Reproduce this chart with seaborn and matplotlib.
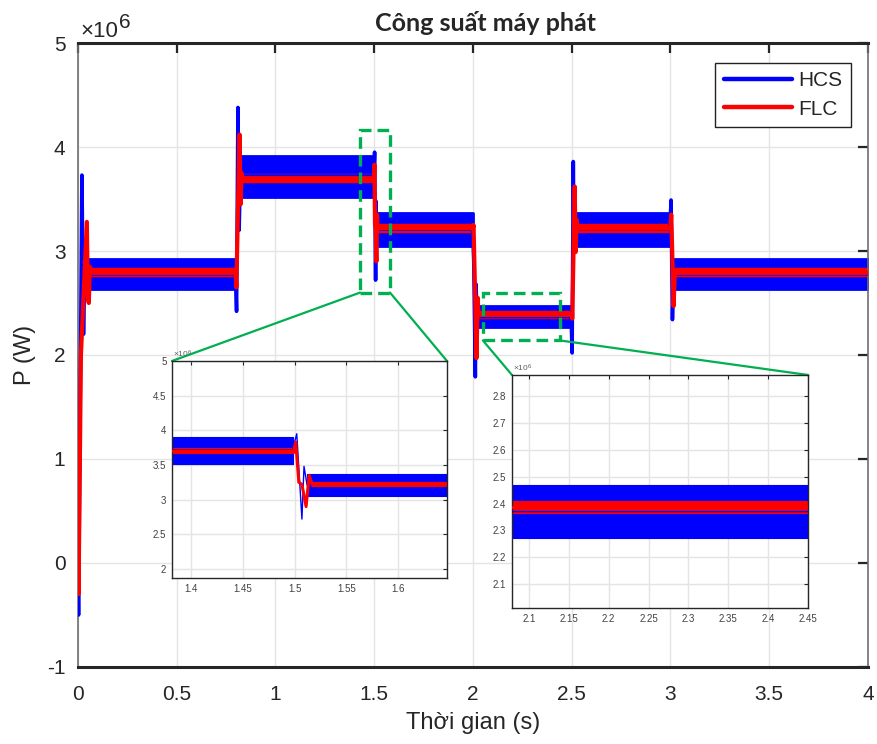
import matplotlib
matplotlib.use("Agg")
import matplotlib.pyplot as plt
import pandas as pd
import seaborn as sns
from matplotlib.lines import Line2D
from matplotlib.patches import Rectangle, ConnectionPatch
from matplotlib.ticker import FuncFormatter

SCALE = 1e6  # power values below are in units of 10^6 W

# ---- HCS controller: transient trace (time s, power) ----
HCS_T = [0.0, 0.003, 0.02, 0.028, 0.035, 0.04,
         0.798, 0.803, 0.81, 0.816, 0.822,
         1.498, 1.502, 1.507, 1.509, 1.512,
         1.998, 2.004, 2.012, 2.016, 2.02, 2.025,
         2.497, 2.502, 2.508, 2.512, 2.516,
         2.997, 3.003, 3.01, 3.016, 4.0]
HCS_P = [0.0, -0.5, 3.73, 2.2, 2.9, 2.78,
         2.78, 2.42, 4.38, 3.2, 3.72,
         3.72, 3.95, 2.72, 3.48, 3.21,
         3.21, 2.9, 1.79, 2.68, 2.3, 2.37,
         2.37, 2.02, 3.86, 3.0, 3.21,
         3.21, 3.49, 2.34, 2.78, 2.78]

# ---- HCS controller: steady-state ripple envelope ----
HCS_BAND_T0 = [0.04, 0.822, 1.512, 2.025, 2.516, 3.016]
HCS_BAND_T1 = [0.798, 1.498, 1.998, 2.497, 2.997, 4.0]
HCS_BAND_LO = [2.63, 3.52, 3.05, 2.27, 3.05, 2.63]
HCS_BAND_HI = [2.92, 3.91, 3.37, 2.47, 3.37, 2.92]

# ---- FLC controller: transient trace ----
FLC_T = [0.0, 0.003, 0.015, 0.045, 0.05, 0.055, 0.06, 0.065,
         0.798, 0.802, 0.818, 0.824, 0.828, 0.832,
         1.499, 1.501, 1.504, 1.507, 1.511, 1.514, 1.517,
         1.999, 2.003, 2.018, 2.024, 2.028,
         2.499, 2.503, 2.515, 2.52, 2.525, 2.53,
         2.999, 3.004, 3.016, 3.022, 4.0]
FLC_P = [0.0, -0.3, 2.0, 3.28, 2.55, 2.5, 2.85, 2.79,
         2.79, 2.65, 4.12, 3.45, 3.75, 3.7,
         3.7, 3.83, 3.25, 3.22, 2.9, 3.35, 3.22,
         3.22, 3.25, 1.97, 2.55, 2.385,
         2.385, 2.35, 3.62, 2.99, 3.3, 3.215,
         3.215, 3.35, 2.47, 2.79, 2.79]

# ---- FLC controller: steady-state ripple envelope ----
FLC_BAND_T0 = [0.065, 0.832, 1.517, 2.028, 2.53, 3.022]
FLC_BAND_T1 = [0.798, 1.499, 1.999, 2.499, 2.999, 4.0]
FLC_BAND_LO = [2.765, 3.675, 3.195, 2.365, 3.19, 2.765]
FLC_BAND_HI = [2.815, 3.725, 3.245, 2.405, 3.24, 2.815]

# zoom windows: (t0, t1, p0, p1) of the dashed boxes and the inset limits
BOX_1 = (1.428, 1.58, 2.6, 4.16)
BOX_2 = (2.05, 2.44, 2.14, 2.6)
INSET_1_LIM = (1.3816, 1.647, 1.87, 5.0)
INSET_2_LIM = (2.0787, 2.45, 2.01, 2.88)
INSET_1_XTICKS = [1.4, 1.45, 1.5, 1.55, 1.6]
INSET_1_YTICKS = [2, 2.5, 3, 3.5, 4, 4.5, 5]
INSET_2_XTICKS = [2.1, 2.15, 2.2, 2.25, 2.3, 2.35, 2.4, 2.45]
INSET_2_YTICKS = [2.1, 2.2, 2.3, 2.4, 2.5, 2.6, 2.7, 2.8]
MAIN_XTICKS = [0, 0.5, 1, 1.5, 2, 2.5, 3, 3.5, 4]
MAIN_YTICKS = [-1, 0, 1, 2, 3, 4, 5]

BLUE = "#0000ff"
RED = "#ff0000"
GREEN = "#00b050"
DARK = "#262626"

sns.set_style("white")
plt.rcParams["font.family"] = ["Liberation Sans", "DejaVu Sans"]
plt.rcParams["axes.unicode_minus"] = False
plt.rcParams["mathtext.fontset"] = "custom"
plt.rcParams["mathtext.rm"] = "Liberation Sans"
plt.rcParams["mathtext.it"] = "Liberation Sans"

hcs = pd.DataFrame({"t": HCS_T, "P": [p * SCALE for p in HCS_P]})
flc = pd.DataFrame({"t": FLC_T, "P": [p * SCALE for p in FLC_P]})


def draw_series(ax, trace, t0, t1, lo, hi, color, lw_trace, lw_band):
    for a, b, l, h in zip(t0, t1, lo, hi):
        ax.fill_between([a, b], [l * SCALE] * 2, [h * SCALE] * 2,
                        facecolor=color, edgecolor=color, linewidth=lw_band,
                        joinstyle="round", zorder=2)
    sns.lineplot(data=trace, x="t", y="P", estimator=None, sort=False,
                 color=color, linewidth=lw_trace, ax=ax, zorder=3,
                 solid_joinstyle="round", solid_capstyle="round")


def fmt_g(v, pos):
    return f"{v:g}"


def fmt_mw(v, pos):
    return f"{v / SCALE:g}"


def style_axes(ax, fs, tick_len, tick_w, pad, label_color):
    ax.grid(True, color="#e4e4e4", linewidth=1.0)
    ax.set_axisbelow(True)
    ax.tick_params(direction="in", top=True, right=True, length=tick_len,
                   width=tick_w, color=DARK, labelsize=fs,
                   labelcolor=label_color, pad=pad)
    ax.set_xlabel("")
    ax.set_ylabel("")


fig = plt.figure(figsize=(8.77, 7.44), dpi=100)
ax = fig.add_axes([0.0889, 0.1035, 0.9008, 0.8387])

draw_series(ax, hcs, HCS_BAND_T0, HCS_BAND_T1, HCS_BAND_LO, HCS_BAND_HI,
            BLUE, 2.6, 2.0)
draw_series(ax, flc, FLC_BAND_T0, FLC_BAND_T1, FLC_BAND_LO, FLC_BAND_HI,
            RED, 3.0, 3.2)

ax.set_xlim(0, 4)
ax.set_ylim(-1 * SCALE, 5 * SCALE)
ax.set_xticks(MAIN_XTICKS)
ax.set_yticks([v * SCALE for v in MAIN_YTICKS])
ax.xaxis.set_major_formatter(FuncFormatter(fmt_g))
ax.yaxis.set_major_formatter(FuncFormatter(fmt_mw))
style_axes(ax, 15, 7, 1.6, 9, DARK)
ax.tick_params(axis="x", pad=13)
for side in ("top", "bottom"):
    ax.spines[side].set_color(DARK)
    ax.spines[side].set_linewidth(2.2)
for side in ("left", "right"):
    ax.spines[side].set_color("#6e6e6e")
    ax.spines[side].set_linewidth(1.2)
ax.set_xlabel("Thời gian (s)", fontsize=17, color=DARK, labelpad=6)
ax.set_ylabel("P (W)", fontsize=17, color=DARK, labelpad=8)

# exponent marker above the y axis
ax.annotate("×10", xy=(0, 1), xycoords="axes fraction", xytext=(2, 6),
            textcoords="offset pixels", ha="left", va="baseline",
            fontsize=16, color=DARK)
ax.annotate("6", xy=(0, 1), xycoords="axes fraction", xytext=(41, 15),
            textcoords="offset pixels", ha="left", va="baseline",
            fontsize=15, color=DARK)

fig.text(0.554, 0.969, "Công suất máy phát", ha="center", va="center",
         fontsize=18, fontweight="bold", family=["Lato", "DejaVu Sans"])

handles = [Line2D([], [], color=BLUE, linewidth=3.2),
           Line2D([], [], color=RED, linewidth=3.2)]
leg = ax.legend(handles, ["HCS", "FLC"], loc="upper right",
                bbox_to_anchor=(0.9785, 0.968), borderaxespad=0,
                fontsize=15, fancybox=False, framealpha=1, edgecolor="#222222",
                handlelength=3.3, handletextpad=0.3, labelspacing=0.45,
                borderpad=0.4)
leg.get_frame().set_linewidth(1.0)
leg.set_zorder(10)

# dashed zoom boxes on the main axes
for (t0, t1, p0, p1) in (BOX_1, BOX_2):
    ax.add_patch(Rectangle((t0, p0 * SCALE), t1 - t0, (p1 - p0) * SCALE,
                           fill=False, edgecolor=GREEN, linewidth=2.4,
                           linestyle=(0, (3.5, 1.8)), zorder=6))

# inset axes
ins1 = fig.add_axes([0.1961, 0.2231, 0.3136, 0.2917])
ins2 = fig.add_axes([0.5838, 0.1828, 0.3375, 0.3132])
for ins in (ins1, ins2):
    ins.set_facecolor("white")
    ins.set_zorder(5)

draw_series(ins1, hcs, HCS_BAND_T0, HCS_BAND_T1, HCS_BAND_LO, HCS_BAND_HI,
            BLUE, 1.0, 0.8)
draw_series(ins1, flc, FLC_BAND_T0, FLC_BAND_T1, FLC_BAND_LO, FLC_BAND_HI,
            RED, 2.2, 1.6)
draw_series(ins2, hcs, HCS_BAND_T0, HCS_BAND_T1, HCS_BAND_LO, HCS_BAND_HI,
            BLUE, 1.0, 0.8)
draw_series(ins2, flc, FLC_BAND_T0, FLC_BAND_T1, FLC_BAND_LO, FLC_BAND_HI,
            RED, 2.2, 1.6)

for ins, lim, xt, yt in ((ins1, INSET_1_LIM, INSET_1_XTICKS, INSET_1_YTICKS),
                         (ins2, INSET_2_LIM, INSET_2_XTICKS, INSET_2_YTICKS)):
    ins.set_xlim(lim[0], lim[1])
    ins.set_ylim(lim[2] * SCALE, lim[3] * SCALE)
    ins.set_xticks(xt)
    ins.set_yticks([v * SCALE for v in yt])
    ins.xaxis.set_major_formatter(FuncFormatter(fmt_g))
    ins.yaxis.set_major_formatter(FuncFormatter(fmt_mw))
    style_axes(ins, 7, 3, 0.8, 4, "#404040")
    for side in ins.spines.values():
        side.set_color(DARK)
        side.set_linewidth(1.0)
    ins.text(0.003, 1.005, r"$\times10^{6}$", transform=ins.transAxes,
             ha="left", va="bottom", fontsize=6, color="#606060")

# connector lines from the boxes to the insets
for (t0, t1, p0, p1), ins in ((BOX_1, ins1), (BOX_2, ins2)):
    for t, corner in ((t0, (0, 1)), (t1, (1, 1))):
        con = ConnectionPatch(xyA=(t, p0 * SCALE), coordsA=ax.transData,
                              xyB=corner, coordsB=ins.transAxes,
                              color=GREEN, linewidth=1.6, zorder=4)
        fig.add_artist(con)

fig.savefig("out.png", dpi=100)
